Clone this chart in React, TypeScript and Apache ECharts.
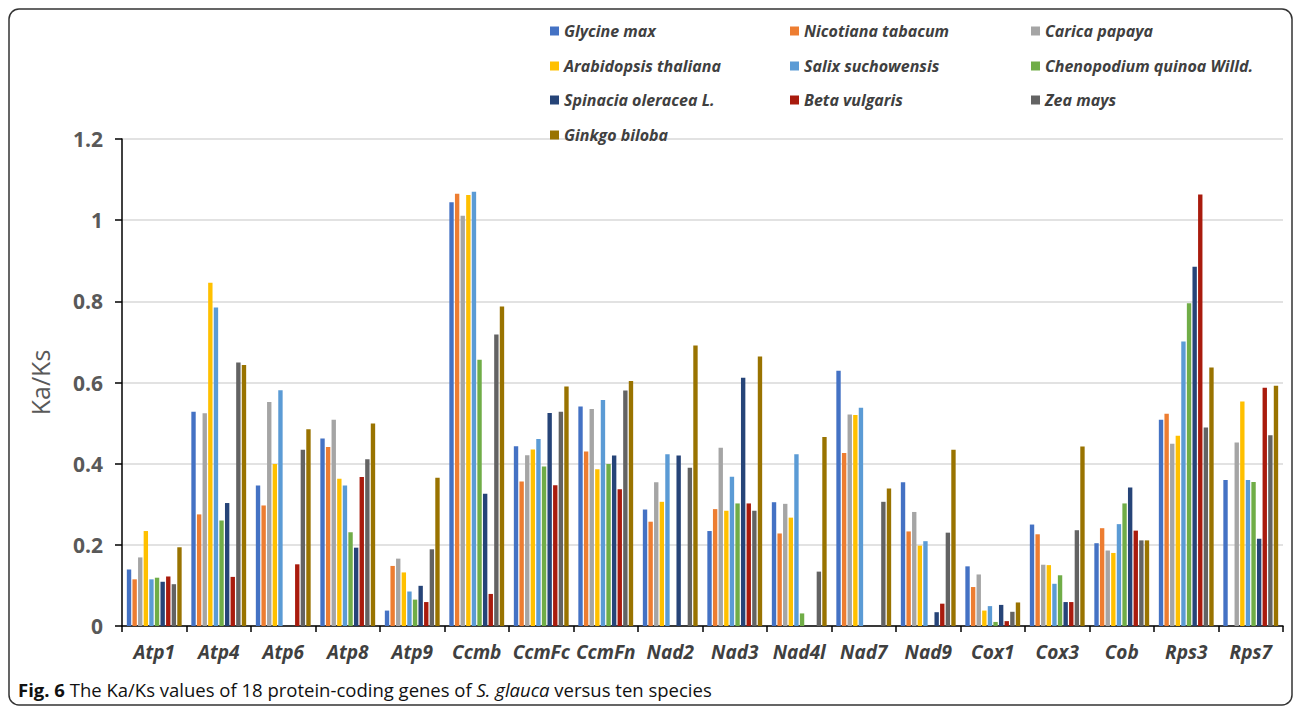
import React, { useEffect, useRef } from "react";
import * as echarts from "echarts";

const genes = ["Atp1", "Atp4", "Atp6", "Atp8", "Atp9", "Ccmb", "CcmFc", "CcmFn", "Nad2", "Nad3", "Nad4l", "Nad7", "Nad9", "Cox1", "Cox3", "Cob", "Rps3", "Rps7"];

const species = ["Glycine max", "Nicotiana tabacum", "Carica papaya", "Arabidopsis thaliana", "Salix suchowensis", "Chenopodium quinoa Willd.", "Spinacia oleracea L.", "Beta vulgaris", "Zea mays", "Ginkgo biloba"];

const colors = ["#4472C4", "#ED7D31", "#A5A5A5", "#FFC000", "#5B9BD5", "#70AD47", "#264478", "#A91B0D", "#636363", "#997300"];

const glycineMax = [0.139, 0.528, 0.346, 0.462, 0.038, 1.044, 0.443, 0.541, 0.287, 0.234, 0.305, 0.629, 0.354, 0.147, 0.25, 0.204, 0.508, 0.36];
const nicotianaTabacum = [0.115, 0.275, 0.297, 0.441, 0.148, 1.065, 0.356, 0.43, 0.257, 0.288, 0.228, 0.426, 0.233, 0.096, 0.226, 0.241, 0.523, 0];
const caricaPapaya = [0.169, 0.524, 0.552, 0.508, 0.166, 1.011, 0.421, 0.535, 0.354, 0.439, 0.301, 0.521, 0.281, 0.127, 0.151, 0.186, 0.449, 0.452];
const arabidopsisThaliana = [0.234, 0.846, 0.399, 0.363, 0.132, 1.062, 0.435, 0.386, 0.306, 0.284, 0.267, 0.52, 0.198, 0.038, 0.15, 0.18, 0.469, 0.553];
const salixSuchowensis = [0.115, 0.785, 0.581, 0.346, 0.085, 1.07, 0.461, 0.557, 0.423, 0.368, 0.423, 0.538, 0.209, 0.049, 0.104, 0.251, 0.701, 0.36];
const chenopodiumQuinoa = [0.119, 0.26, 0, 0.231, 0.065, 0.656, 0.393, 0.399, 0, 0.302, 0.031, 0, 0, 0.01, 0.125, 0.302, 0.795, 0.355];
const spinaciaOleracea = [0.109, 0.303, 0, 0.193, 0.099, 0.326, 0.525, 0.42, 0.42, 0.612, 0, 0, 0.034, 0.052, 0.059, 0.341, 0.885, 0.215];
const betaVulgaris = [0.122, 0.121, 0.152, 0.367, 0.059, 0.079, 0.347, 0.337, 0, 0.302, 0, 0, 0.055, 0.012, 0.059, 0.235, 1.063, 0.587];
const zeaMays = [0.103, 0.649, 0.434, 0.411, 0.189, 0.718, 0.528, 0.58, 0.39, 0.284, 0.134, 0.306, 0.23, 0.035, 0.236, 0.211, 0.489, 0.47];
const ginkgoBiloba = [0.194, 0.643, 0.485, 0.499, 0.365, 0.787, 0.59, 0.604, 0.691, 0.664, 0.466, 0.339, 0.434, 0.058, 0.442, 0.211, 0.637, 0.592];

const seriesValues = [glycineMax, nicotianaTabacum, caricaPapaya, arabidopsisThaliana, salixSuchowensis, chenopodiumQuinoa, spinaciaOleracea, betaVulgaris, zeaMays, ginkgoBiloba];

const FONT = "'Open Sans', 'Noto Sans', sans-serif";

export default function App() {
  const ref = useRef<HTMLDivElement>(null);
  useEffect(() => {
    if (!ref.current) return;
    const chart = echarts.init(ref.current, undefined, { renderer: "svg" });
    const colX = [550, 790, 1031];
    const rowY = [23, 58, 92, 127];
    const legends = species.map((name, i) => ({
      data: [name],
      left: colX[i % 3],
      top: rowY[Math.floor(i / 3)],
      padding: 0,
      itemWidth: 9,
      itemHeight: 9,
      icon: "rect",
      itemGap: 0,
      textStyle: { fontFamily: FONT, fontSize: 16, fontWeight: "bold", fontStyle: "italic", color: "#404040" },
    }));
    chart.setOption({
      animation: false,
      color: colors,
      legend: legends,
      grid: { left: 122, right: 10, top: 139, bottom: 82, containLabel: false },
      xAxis: {
        type: "category",
        data: genes,
        axisLine: { lineStyle: { color: "#000", width: 1.5 } },
        axisTick: { show: true, length: 6, lineStyle: { color: "#000", width: 1.5 } },
        axisLabel: { fontFamily: FONT, fontSize: 19, fontWeight: "bold", fontStyle: "italic", color: "#404040", margin: 16, interval: 0 },
      },
      yAxis: {
        type: "value",
        min: 0,
        max: 1.2,
        interval: 0.2,
        name: "Ka/Ks",
        nameLocation: "middle",
        nameGap: 70,
        nameTextStyle: { fontFamily: FONT, fontSize: 25, color: "#595959" },
        axisLine: { show: true, lineStyle: { color: "#000", width: 1.5 } },
        axisTick: { show: true, length: 7, lineStyle: { color: "#000", width: 1.5 } },
        axisLabel: {
          fontFamily: FONT,
          fontSize: 21,
          fontWeight: "bold",
          color: "#595959",
          margin: 19,
          formatter: (v: number) => (Math.round(v * 10) / 10).toString(),
        },
        splitLine: { lineStyle: { color: "#d9d9d9", width: 1.5 } },
      },
      series: species.map((name, i) => ({
        name,
        type: "bar",
        data: seriesValues[i],
        barGap: "28%",
        barCategoryGap: "15%",
        itemStyle: { color: colors[i] },
      })),
      graphic: [
        {
          type: "rect",
          shape: { x: 9, y: 9, width: 1283, height: 696, r: 10 },
          style: { fill: "none", stroke: "#333", lineWidth: 1.5 },
          silent: true,
        },
        {
          type: "text",
          left: 18,
          top: 680,
          style: {
            text: "{b|Fig. 6} The Ka/Ks values of 18 protein-coding genes of {i|S. glauca} versus ten species",
            fontFamily: FONT,
            fontSize: 18.5,
            fill: "#111",
            rich: {
              b: { fontFamily: FONT, fontSize: 18.5, fontWeight: "bold", fill: "#111" },
              i: { fontFamily: FONT, fontSize: 18.5, fontStyle: "italic", fill: "#111" },
            },
          },
        },
      ],
    });
    return () => chart.dispose();
  }, []);
  return <div ref={ref} style={{ position: "absolute", left: 0, top: 0, width: 1293, height: 708 }} />;
}
